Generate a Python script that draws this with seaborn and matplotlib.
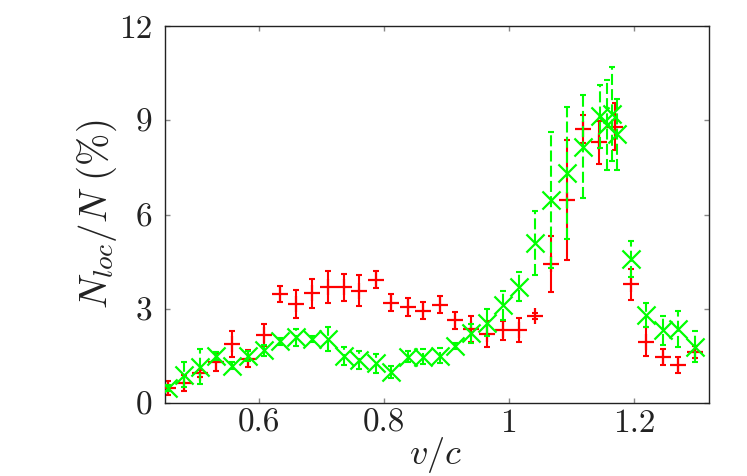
import numpy as np
import pandas as pd
import matplotlib
matplotlib.use('Agg')
import matplotlib.pyplot as plt
import seaborn as sns

# ---- data ----
v_red = [0.455, 0.481, 0.506, 0.532, 0.557, 0.583, 0.608, 0.634, 0.659, 0.685,
         0.710, 0.736, 0.761, 0.787, 0.812, 0.838, 0.863, 0.889, 0.914, 0.940,
         0.965, 0.991, 1.016, 1.042, 1.067, 1.093, 1.118, 1.144, 1.169, 1.195,
         1.220, 1.246, 1.271, 1.297]
n_red = [0.48, 0.64, 0.94, 1.30, 1.87, 1.41, 2.15, 3.48, 3.15, 3.49,
         3.69, 3.68, 3.58, 3.93, 3.19, 3.05, 2.94, 3.13, 2.64, 2.36,
         2.19, 2.32, 2.32, 2.77, 4.43, 6.46, 8.72, 8.30, 8.80, 3.78,
         1.95, 1.47, 1.21, 1.63]
e_red = [0.23, 0.25, 0.10, 0.28, 0.41, 0.28, 0.35, 0.25, 0.44, 0.46,
         0.50, 0.44, 0.49, 0.27, 0.27, 0.28, 0.27, 0.27, 0.27, 0.42,
         0.41, 0.30, 0.39, 0.10, 0.90, 1.90, 0.45, 0.68, 0.76, 0.49,
         0.46, 0.25, 0.24, 0.20]

v_green = [0.455, 0.481, 0.506, 0.532, 0.557, 0.583, 0.608, 0.634, 0.659, 0.685,
           0.710, 0.736, 0.761, 0.787, 0.812, 0.838, 0.863, 0.889, 0.914, 0.940,
           0.965, 0.991, 1.016, 1.042, 1.067, 1.093, 1.118, 1.145, 1.157, 1.165,
           1.173, 1.195, 1.220, 1.246, 1.271, 1.297]
n_green = [0.48, 0.90, 1.16, 1.50, 1.19, 1.49, 1.68, 1.96, 2.09, 2.04,
           2.04, 1.50, 1.37, 1.27, 0.98, 1.48, 1.48, 1.51, 1.82, 2.22,
           2.56, 3.11, 3.70, 5.09, 6.46, 7.33, 8.16, 9.12, 8.86, 9.19,
           8.55, 4.58, 2.80, 2.32, 2.35, 1.79]
e_green = [0.10, 0.40, 0.55, 0.12, 0.10, 0.16, 0.18, 0.12, 0.27, 0.10,
           0.39, 0.28, 0.30, 0.30, 0.19, 0.19, 0.24, 0.24, 0.10, 0.30,
           0.43, 0.46, 0.46, 1.02, 2.16, 2.10, 1.64, 1.00, 1.43, 1.50,
           1.14, 0.57, 0.37, 0.46, 0.57, 0.50]

x_ticks = [0.6, 0.8, 1.0, 1.2]
x_tick_labels = ['0.6', '0.8', '1', '1.2']
y_ticks = [0, 3, 6, 9, 12]
y_tick_labels = ['0', '3', '6', '9', '12']

red_df = pd.DataFrame({'v': v_red, 'n': n_red, 'e': e_red})
green_df = pd.DataFrame({'v': v_green, 'n': n_green, 'e': e_green})

sns.set_style('ticks')
plt.rcParams.update({
    'font.family': 'serif',
    'font.serif': ['cmr10', 'DejaVu Serif'],
    'mathtext.fontset': 'cm',
    'axes.formatter.use_mathtext': True,
    'axes.unicode_minus': False,
})

RED = '#ff0000'
GREEN = '#00ff00'

fig = plt.figure(figsize=(7.47, 4.76), dpi=100)
ax = fig.add_axes([165 / 747, 73 / 476, 544 / 747, 377 / 476])

# red series
ax.errorbar(red_df['v'], red_df['n'], yerr=red_df['e'], fmt='none',
            ecolor=RED, elinewidth=1.5, capsize=2.5, capthick=1.5, zorder=2)
sns.scatterplot(data=red_df, x='v', y='n', marker='+', s=140, color=RED,
                linewidth=1.6, ax=ax, zorder=3, legend=False)

# green series (dashed error bars)
eg = ax.errorbar(green_df['v'], green_df['n'], yerr=green_df['e'], fmt='none',
                 ecolor=GREEN, elinewidth=1.5, capsize=2.5, capthick=1.5, zorder=4)
for lc in eg[2]:
    lc.set_linestyle((0, (5.3, 2.0)))
sns.scatterplot(data=green_df, x='v', y='n', marker='x', s=170, color=GREEN,
                linewidth=1.6, ax=ax, zorder=5, legend=False)

ax.set_xlim(0.45, 1.32)
ax.set_ylim(0, 12)
ax.set_xticks(x_ticks)
ax.set_xticklabels(x_tick_labels)
ax.set_yticks(y_ticks)
ax.set_yticklabels(y_tick_labels)

for s in ax.spines.values():
    s.set_visible(True)
    s.set_color('#222222')
    s.set_linewidth(1.0)

ax.tick_params(axis='both', which='major', direction='in', length=3.6,
               width=1.0, color='#888888', labelsize=24, labelcolor='#222222',
               top=True, right=True)
ax.tick_params(axis='x', pad=4)
ax.tick_params(axis='y', pad=9)

ax.set_xlabel(r'$v/c$', fontsize=26, color='#222222')
ax.set_ylabel(r'$N_{loc}/N\ (\%)$', fontsize=28, color='#222222')
ax.xaxis.set_label_coords(0.498, -0.138)
ax.xaxis.label.set_va('center')
ax.yaxis.set_label_coords(-0.125, 0.5)
ax.yaxis.label.set_va('center')

fig.savefig('out.png', dpi=100)
